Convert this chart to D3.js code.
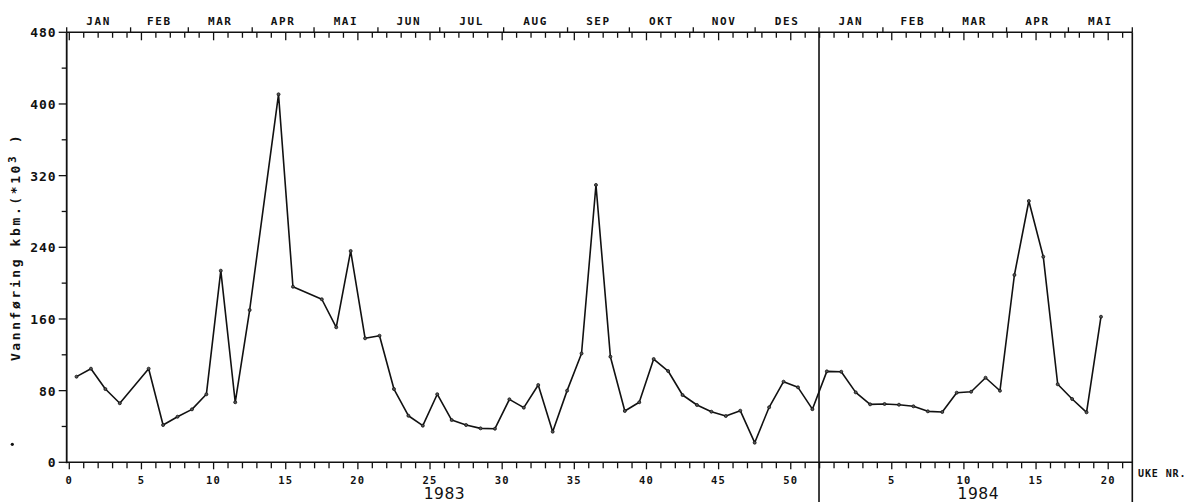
<!DOCTYPE html>
<html><head><meta charset="utf-8">
<script src="https://cdn.jsdelivr.net/npm/d3@7"></script>
<style>
html,body{margin:0;padding:0;background:#fff;}
svg{display:block;}
text{fill:#111;}
</style></head>
<body>
<svg id="chart" width="1189" height="502"></svg>
<script>
// ---- data ----
const monthNames1983 = ["JAN","FEB","MAR","APR","MAI","JUN","JUL","AUG","SEP","OKT","NOV","DES"];
const monthNames1984 = ["JAN","FEB","MAR","APR","MAI"];
const yTicks = [0, 80, 160, 240, 320, 400, 480];
const weekLabels1983 = [0, 5, 10, 15, 20, 25, 30, 35, 40, 45, 50];
const weekLabels1984 = [5, 10, 15, 20];
// weekly discharge (kbm *10^3), weeks 1..52 of 1983 (null = no value)
const flow1983 = [95.6,104.5,81.8,65.9,null,104.5,41.6,50.9,59.1,75.9,
  213.9,67,170,null,410.8,196,null,182,150.7,235.9,
  138.4,141.3,81.8,52,40.9,76,47.2,41.6,37.9,37.5,
  70.3,61,86.3,34.2,80,121.5,309.6,117.9,57.3,67,
  115.3,101.9,75.1,64,56.5,51.7,57.6,21.9,61.4,90,
  83.7,59.3];
// weeks 1..20 of 1984
const flow1984 = [101.5,101.1,78.1,64.7,65.1,64.3,62.5,56.9,56.2,77.7,
  78.8,94.4,79.9,209.1,291.7,229.5,87.1,70.7,55.8,162.5];
const yearLabels = ["1983", "1984"];

// ---- layout ----
const L = 66.7, R = 1132.3, T = 32.3, B = 462.3;
const svg = d3.select("#chart");
const ink = "#111";

const x = d3.scaleLinear().domain([-0.18, 73.67]).range([L, R]);           // global week
const t = d3.scaleTime().domain([new Date(1983,0,1), new Date(1984,5,1)]).range([L, R]);
const y = d3.scaleLinear().domain([0, 480]).range([B, T]);

const points = [];
flow1983.forEach((v,i)=>{ if(v!==null) points.push({w:i+0.5, v}); });
flow1984.forEach((v,i)=>{ if(v!==null) points.push({w:52+i+0.5, v}); });

const mono = "'DejaVu Sans Mono', monospace";

// frame
const g = svg.append("g");
g.append("line").attr("x1",L).attr("x2",L).attr("y1",T).attr("y2",B+1).attr("stroke",ink).attr("stroke-width",1.8);
g.append("line").attr("x1",L).attr("x2",R).attr("y1",T).attr("y2",T).attr("stroke",ink).attr("stroke-width",1.6);
g.append("line").attr("x1",L).attr("x2",R).attr("y1",B).attr("y2",B).attr("stroke",ink).attr("stroke-width",1.6);
g.append("line").attr("x1",R).attr("x2",R).attr("y1",T).attr("y2",502).attr("stroke",ink).attr("stroke-width",1.6);
const divX = t(new Date(1984,0,1));
g.append("line").attr("x1",divX).attr("x2",divX).attr("y1",T).attr("y2",502).attr("stroke",ink).attr("stroke-width",1.6);

// y axis
const yMinor = d3.range(0, 481, 40);
g.selectAll(".ytick").data(yMinor).enter().append("line")
  .attr("x1", d => yTicks.includes(d) ? L-8 : L-5).attr("x2", L)
  .attr("y1", d=>y(d)).attr("y2", d=>y(d)).attr("stroke",ink).attr("stroke-width",1.3);
g.selectAll(".ylab").data(yTicks).enter().append("text")
  .attr("x", L-10).attr("y", d=>y(d)+5).attr("text-anchor","end")
  .attr("font-family", mono).attr("font-weight","bold").attr("font-size",13)
  .attr("letter-spacing", 1)
  .text(d=>d);

// y title
g.append("text")
  .attr("transform","translate(20,247) rotate(-90)")
  .attr("text-anchor","middle")
  .attr("font-family", mono).attr("font-size",13).attr("font-weight","bold")
  .attr("letter-spacing", 2.6)
  .call(s=>{
    s.append("tspan").text("Vannføring kbm.(*10");
    s.append("tspan").attr("dy",-4).attr("font-size",11).text("3");
    s.append("tspan").attr("dy",4).text(" )");
  });

// top axis: month ticks upward, weekly ticks downward
const monthStarts = d3.timeMonth.range(new Date(1983,0,1), new Date(1984,5,2));
g.selectAll(".mtick").data(monthStarts).enter().append("line")
  .attr("x1", d=>t(d)).attr("x2", d=>t(d)).attr("y1", T-5).attr("y2", T)
  .attr("stroke",ink).attr("stroke-width",1.3);
const monthNames = monthNames1983.concat(monthNames1984);
const monthMid = monthNames.map((m,i)=>{
  const a = new Date(1983+Math.floor(i/12), i%12, 1);
  const b = new Date(1983+Math.floor((i+1)/12), (i+1)%12, 1);
  return {m, x:(t(a)+t(b))/2};
});
g.selectAll(".mlab").data(monthMid).enter().append("text")
  .attr("x", d=>d.x).attr("y", 25).attr("text-anchor","middle")
  .attr("font-family", mono).attr("font-weight","bold").attr("font-size",11)
  .attr("letter-spacing", 1.6)
  .text(d=>d.m);

const topWeeks = d3.range(0, 53).map(k=>({w:k, long:k%5===0}))
  .concat(d3.range(1, 22).map(k=>({w:52+k, long:k%5===0})));
g.selectAll(".twk").data(topWeeks).enter().append("line")
  .attr("x1", d=>x(d.w)).attr("x2", d=>x(d.w)).attr("y1", T).attr("y2", d=>T+(d.long?8:5.5))
  .attr("stroke",ink).attr("stroke-width",1.3);

// bottom axis weekly ticks
const botWeeks = d3.range(0, 53).map(k=>({w:k, long:k%5===0}))
  .concat(d3.range(1, 22).map(k=>({w:52+k, long:k%5===0})));
g.selectAll(".bwk").data(botWeeks).enter().append("line")
  .attr("x1", d=>x(d.w)).attr("x2", d=>x(d.w)).attr("y1", B).attr("y2", d=>B+(d.long?7:6))
  .attr("stroke",ink).attr("stroke-width",1.3);
const botLabels = weekLabels1983.map(k=>({w:k, s:String(k)}))
  .concat(weekLabels1984.map(k=>({w:52+k, s:String(k)})));
g.selectAll(".blab").data(botLabels).enter().append("text")
  .attr("x", d=>x(d.w)).attr("y", 483.5).attr("text-anchor","middle")
  .attr("font-family", mono).attr("font-weight","bold").attr("font-size",10.5)
  .attr("letter-spacing", 1.2)
  .text(d=>d.s);

// year labels
g.selectAll(".yr").data(yearLabels).enter().append("text")
  .attr("x", (d,i)=> i===0 ? x(26) : x(52+11))
  .attr("y", 499).attr("text-anchor","middle")
  .attr("font-family","'DejaVu Sans', sans-serif").attr("font-size",15.5)
  .attr("letter-spacing", 0.5)
  .text(d=>d);

g.append("text").attr("x",1138).attr("y",477)
  .attr("font-family", mono).attr("font-weight","bold").attr("font-size",10)
  .attr("letter-spacing", 0.9)
  .text("UKE NR.");

// data line
const line = d3.line().x(d=>x(d.w)).y(d=>y(d.v));
g.append("path").datum(points).attr("d", line)
  .attr("fill","none").attr("stroke",ink).attr("stroke-width",1.6).attr("stroke-linejoin","round");
g.selectAll(".pt").data(points).enter().append("circle")
  .attr("cx", d=>x(d.w)).attr("cy", d=>y(d.v)).attr("r",1.5)
  .attr("fill","#555").attr("stroke",ink).attr("stroke-width",0.8);

// stray scan mark
g.append("circle").attr("cx",12.3).attr("cy",444.3).attr("r",1.6).attr("fill",ink);
</script>
</body></html>
